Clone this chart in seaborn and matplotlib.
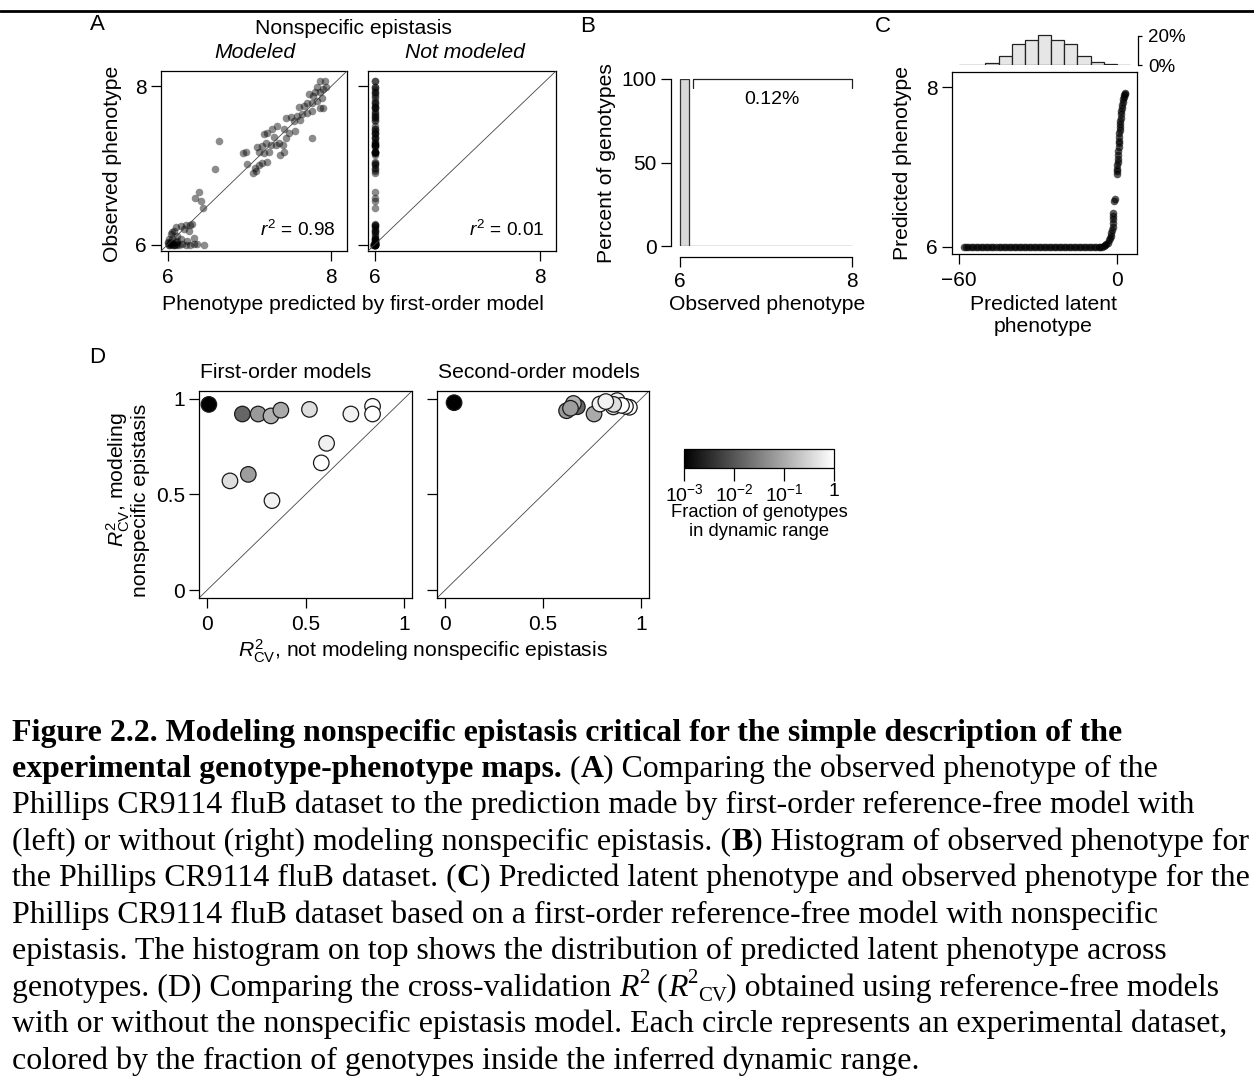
import matplotlib
matplotlib.use("Agg")
import numpy as np
import seaborn as sns
import matplotlib.pyplot as plt
from matplotlib.colors import LogNorm
from matplotlib.lines import Line2D
from matplotlib.font_manager import FontProperties
from matplotlib.cm import ScalarMappable

# ---------------- data ----------------
# Panel A: observed phenotype vs first-order predictions
observed = [
    8.063, 8.063, 7.99, 7.966, 7.987, 7.925, 7.925, 7.874, 7.895, 7.79,
    7.79, 7.81, 7.853, 7.727, 7.727, 7.748, 7.74, 7.644, 7.656, 7.686,
    7.623, 7.614, 7.60, 7.56, 7.568, 7.43, 7.405, 7.463, 7.35, 7.497,
    7.463, 7.413, 7.392, 7.363, 7.258, 7.258, 7.287, 7.245, 7.233, 7.17,
    7.153, 7.174, 7.287, 7.258, 7.17, 7.128, 7.044, 7.036, 7.002, 6.973,
    6.901, 6.927, 7.015, 7.153, 7.17, 7.342, 7.312, 6.948, 6.658, 6.583,
    6.545, 6.461,
    6.239, 6.247, 6.247, 6.197, 6.176, 6.134, 6.113, 6.071, 6.071, 6.05,
    6.008, 5.996, 5.996, 5.996, 5.996, 5.996, 5.996, 6.008, 6.029, 6.038,
    6.05, 6.071, 6.155, 6.029, 6.008, 6.008, 6.08, 6.176, 6.26, 6.218,
    6.0, 6.0, 6.0, 6.02, 6.01, 6.02, 5.99, 6.01,
]
pred_modeled = [
    7.858, 7.927, 7.825, 7.894, 7.935, 7.805, 7.866, 7.776, 7.732, 7.703,
    7.768, 7.825, 7.886, 7.894, 7.858, 7.663, 7.60, 7.642, 7.703, 7.764,
    7.581, 7.512, 7.451, 7.541, 7.622, 7.557, 7.484, 7.419, 7.451, 7.337,
    7.276, 7.215, 7.175, 7.297, 7.325, 7.26, 7.207, 7.154, 7.093, 7.114,
    7.175, 7.236, 7.358, 7.41, 7.427, 7.37, 7.215, 7.154, 7.114, 7.073,
    7.037, 7.085, 6.972, 6.919, 6.959, 7.764, 6.626, 6.585, 6.382, 6.329,
    6.41, 6.435,
    6.159, 6.22, 6.28, 6.2, 6.077, 6.037, 6.118, 6.057, 6.159, 6.24,
    6.321, 6.443, 6.28, 6.22, 6.016, 6.077, 6.138, 6.179, 6.098, 6.037,
    6.118, 6.016, 6.057, 6.0, 6.03, 6.36, 6.32, 6.26, 6.30, 6.098,
    6.02, 6.05, 6.1, 6.01, 6.04, 6.06, 6.08, 6.12,
]
pred_not_modeled = [
    6.01, 6.01, 6.01, 6.01, 6.01, 6.01, 6.01, 6.01, 6.01, 6.01,
    6.01, 6.01, 6.01, 6.01, 6.01, 6.01, 6.01, 6.01, 6.01, 6.01,
    6.01, 6.01, 6.01, 6.01, 6.01, 6.01, 6.01, 6.01, 6.01, 6.01,
    6.01, 6.01, 6.01, 6.01, 6.01, 6.01, 6.01, 6.01, 6.01, 6.01,
    6.01, 6.01, 6.01, 6.01, 6.01, 6.01, 6.01, 6.01, 6.01, 6.01,
    6.01, 6.01, 6.01, 6.01, 6.01, 6.01, 6.01, 6.01, 6.01, 6.01,
    6.01, 6.01,
    6.01, 6.01, 6.01, 6.01, 6.01, 6.01, 6.01, 6.01, 6.01, 6.01,
    6.01, 6.0, 6.0, 6.01, 5.99, 6.0, 6.01, 6.01, 6.01, 6.0,
    6.01, 6.01, 6.01, 6.0, 6.0, 6.01, 6.01, 6.01, 6.01, 6.01,
    5.99, 6.0, 6.01, 6.0, 6.0, 6.01, 5.98, 6.0,
]
r2_values = [0.98, 0.01]

# Panel B: histogram of observed phenotype (percent of genotypes)
b_edges = [6.0, 6.1, 6.2, 6.3, 6.4, 6.5, 6.6, 6.7, 6.8, 6.9, 7.0,
           7.1, 7.2, 7.3, 7.4, 7.5, 7.6, 7.7, 7.8, 7.9, 8.0]
b_percent = [99.88, 0.02, 0.01, 0.01, 0.0, 0.01, 0.0, 0.01, 0.01, 0.0,
             0.01, 0.01, 0.0, 0.01, 0.0, 0.01, 0.0, 0.0, 0.01, 0.0]

# Panel C: latent phenotype vs predicted phenotype
c_latent = [
    -58.2, -57.3, -56.4, -55.4, -54.5, -53.5, -52.6, -51.6, -50.7, -49.7,
    -48.8, -47.8, -46.9, -45.9, -45.0, -44.0, -43.1, -42.1, -41.2, -40.2,
    -39.3, -38.3, -37.4, -36.4, -35.5, -34.5, -33.6, -32.6, -31.7, -30.7,
    -29.8, -28.8, -27.9, -26.9, -26.0, -25.0, -24.1, -23.1, -22.2, -21.2,
    -20.3, -19.3, -18.4, -17.4, -16.5, -15.5, -14.6, -13.6, -12.7, -11.7,
    -10.8, -9.8, -8.9, -7.9, -7.0, -6.4,
    -5.8, -5.0, -4.5, -4.0, -3.5, -3.0, -2.7, -2.4, -2.1, -1.9,
    -1.7, -1.55, -1.45, -1.4, -1.35, -1.1, -0.8, -0.15, 0.0, 0.1,
    0.15, 0.2, 0.3, 0.4, 0.5, 0.6, 0.7, 0.75, 0.85, 0.9,
    1.0, 1.1, 1.2, 1.3, 1.4, 1.5, 1.65, 1.8, 1.95, 2.1,
    2.3, 2.5, 2.75, 3.0, 3.2,
]
c_pred = [
    6.0, 6.0, 6.0, 6.0, 6.0, 6.0, 6.0, 6.0, 6.0, 6.0,
    6.0, 6.0, 6.0, 6.0, 6.0, 6.0, 6.0, 6.0, 6.0, 6.0,
    6.0, 6.0, 6.0, 6.0, 6.0, 6.0, 6.0, 6.0, 6.0, 6.0,
    6.0, 6.0, 6.0, 6.0, 6.0, 6.0, 6.0, 6.0, 6.0, 6.0,
    6.0, 6.0, 6.0, 6.0, 6.0, 6.0, 6.0, 6.0, 6.0, 6.0,
    6.0, 6.0, 6.0, 6.0, 6.0, 6.0,
    6.0, 6.01, 6.02, 6.03, 6.05, 6.08, 6.11, 6.14, 6.17, 6.21,
    6.25, 6.30, 6.35, 6.38, 6.42, 6.58, 6.6, 6.91, 6.95, 6.98,
    7.03, 7.06, 7.1, 7.15, 7.2, 7.25, 7.3, 7.33, 7.38, 7.42,
    7.46, 7.5, 7.54, 7.58, 7.62, 7.66, 7.7, 7.74, 7.78, 7.81,
    7.85, 7.88, 7.9, 7.92, 7.93,
]
c_hist_edges = [-60, -55, -50, -45, -40, -35, -30, -25, -20, -15, -10, -5, 0, 5]
c_hist_percent = [0.0, 0.3, 1.2, 6.4, 14.4, 16.8, 20.3, 16.8, 14.4, 6.4, 1.9, 0.7, 0.0]

# Panel D: cross-validated R^2 with / without nonspecific epistasis
first_without = [0.01, 0.18, 0.26, 0.325, 0.375, 0.52, 0.73, 0.84, 0.84, 0.607, 0.58, 0.117, 0.21, 0.33]
first_with = [0.97, 0.92, 0.92, 0.91, 0.94, 0.944, 0.92, 0.96, 0.92, 0.767, 0.665, 0.571, 0.605, 0.468]
second_without = [0.047, 0.675, 0.62, 0.655, 0.76, 0.858, 0.79, 0.94, 0.92, 0.878, 0.90, 0.86, 0.64, 0.82]
second_with = [0.979, 0.958, 0.937, 0.975, 0.92, 0.957, 0.972, 0.955, 0.96, 0.99, 0.965, 0.97, 0.95, 0.985]
frac_dynamic = [0.001, 0.016, 0.063, 0.12, 0.1, 0.4, 0.7, 1.0, 1.0, 0.65, 1.0, 0.4, 0.07, 0.7]
cbar_ticks = [1e-3, 1e-2, 1e-1, 1]
cbar_labels = [r"$10^{-3}$", r"$10^{-2}$", r"$10^{-1}$", "1"]

# ---------------- style ----------------
sns.set_theme(style="ticks")
FS = 15.2
TICK_FS = 15
plt.rcParams.update({
    "font.family": ["Liberation Sans", "DejaVu Sans"],
    "mathtext.fontset": "custom",
    "mathtext.rm": "Liberation Sans",
    "mathtext.it": "Liberation Sans:italic",
    "mathtext.bf": "Liberation Sans:bold",
    "axes.edgecolor": "black",
    "axes.linewidth": 0.9,
    "xtick.color": "black",
    "ytick.color": "black",
    "xtick.major.width": 0.9,
    "ytick.major.width": 0.9,
    "xtick.major.size": 7,
    "ytick.major.size": 7,
    "xtick.direction": "out",
    "ytick.direction": "out",
    "xtick.labelsize": TICK_FS,
    "ytick.labelsize": TICK_FS,
    "text.color": "black",
})

W, H = 1254, 1078
fig = plt.figure(figsize=(W / 100, H / 100), dpi=100)


def add_ax(x0, y0, x1, y1):
    return fig.add_axes([x0 / W, 1 - y1 / H, (x1 - x0) / W, (y1 - y0) / H])


def ftext(x, y, s, **kw):
    kw.setdefault("ha", "center")
    kw.setdefault("va", "center")
    kw.setdefault("fontsize", FS)
    return fig.text(x / W, 1 - y / H, s, **kw)


def box_axes(ax):
    for sp in ax.spines.values():
        sp.set_visible(True)
        sp.set_linewidth(0.9)
        sp.set_color("black")
    ax.set_xlabel("")
    ax.set_ylabel("")


def tick_style(ax):
    ax.tick_params(axis="x", pad=5.5, length=7)
    ax.tick_params(axis="y", pad=3, length=7)


# rule across the top
fig.add_artist(Line2D([0, 1], [1 - 11 / H, 1 - 11 / H], transform=fig.transFigure,
                      color="black", lw=2))

# ---------------- panel A ----------------
lim_a = (5.92, 8.19)
axA1 = add_ax(161, 71, 347, 251)
axA2 = add_ax(368, 71, 556, 251)
for ax, xs, r2, show_y in [(axA1, pred_modeled, r2_values[0], True),
                           (axA2, pred_not_modeled, r2_values[1], False)]:
    sns.scatterplot(x=xs, y=observed, ax=ax, color="black", alpha=0.45,
                    s=30, linewidth=0, legend=False)
    ax.axline((6, 6), slope=1, color="#444444", lw=0.6, zorder=3)
    ax.set_xlim(lim_a)
    ax.set_ylim(lim_a)
    ax.set_xticks([6, 8])
    ax.set_yticks([6, 8])
    ax.set_xticklabels(["6", "8"])
    ax.set_yticklabels(["6", "8"] if show_y else [])
    tick_style(ax)
    box_axes(ax)
    ax.text(0.94, 0.117, r"$r^2$ = %.2f" % r2, transform=ax.transAxes,
            ha="right", va="center", fontsize=13.8)

ftext(97, 25, "A", fontsize=16)
ftext(353, 28, "Nonspecific epistasis")
ftext(255, 53, "Modeled", style="italic")
ftext(465, 53, "Not modeled", style="italic")
ftext(113, 164, "Observed phenotype", rotation=90)
ftext(353, 304, "Phenotype predicted by first-order model")

# ---------------- panel B ----------------
axB = add_ax(675, 79, 858, 246)
b_centers = [(a + b) / 2 for a, b in zip(b_edges[:-1], b_edges[1:])]
sns.histplot(x=b_centers, weights=b_percent, bins=b_edges, ax=axB,
             color="#d9d9d9", edgecolor="#333333", linewidth=0.9, alpha=1)
axB.set_xlim(5.942, 8.07)
axB.set_ylim(0, 100)
axB.spines["top"].set_visible(False)
axB.spines["right"].set_visible(False)
axB.spines["left"].set_position(("outward", 3))
axB.spines["left"].set_bounds(0, 100)
axB.spines["bottom"].set_position(("outward", 8))
axB.spines["bottom"].set_bounds(6, 8)
axB.set_xticks([6, 8])
axB.set_xticklabels(["6", "8"])
axB.set_yticks([0, 50, 100])
axB.set_yticklabels(["0", "50", "100"])
axB.tick_params(axis="x", pad=4, length=7)
axB.tick_params(axis="y", pad=3, length=7)
axB.set_xlabel("")
axB.set_ylabel("")
# bracket over the bins above the first one
bx0 = b_edges[1] + 0.05
bx1 = b_edges[-1]
axB.plot([bx0, bx0, bx1, bx1], [94.5, 100, 100, 94.5], color="#222222", lw=0.9,
         clip_on=False)
axB.text((bx0 + bx1) / 2, 87.5, "%.2f%%" % sum(b_percent[1:]), ha="center",
         va="center", fontsize=14)

ftext(588, 26, "B", fontsize=16)
ftext(607, 163, "Percent of genotypes", rotation=90)
ftext(767, 304, "Observed phenotype")

# ---------------- panel C ----------------
xlim_c = (-62.66, 7.6)
axC = add_ax(952, 72, 1137, 254)
sns.scatterplot(x=c_latent, y=c_pred, ax=axC, color="black", alpha=0.65,
                s=30, linewidth=0, legend=False)
axC.set_xlim(xlim_c)
axC.set_ylim(5.91, 8.19)
axC.set_xticks([-60, 0])
axC.set_xticklabels(["\u221260", "0"])
axC.set_yticks([6, 8])
axC.set_yticklabels(["6", "8"])
tick_style(axC)
box_axes(axC)

axCh = add_ax(952, 33, 1137, 65)
c_centers = [(a + b) / 2 for a, b in zip(c_hist_edges[:-1], c_hist_edges[1:])]
sns.histplot(x=c_centers, weights=c_hist_percent, bins=c_hist_edges, ax=axCh,
             color="#e6e6e6", edgecolor="#222222", linewidth=0.9, alpha=1)
axCh.set_xlim(xlim_c)
axCh.set_ylim(0, 32 / 29.3 * 20)
for side in ["top", "left", "bottom"]:
    axCh.spines[side].set_visible(False)
axCh.spines["right"].set_position(("outward", 1))
axCh.spines["right"].set_bounds(0, 20)
axCh.spines["right"].set_linewidth(0.9)
axCh.yaxis.tick_right()
axCh.set_yticks([0, 20])
axCh.set_yticklabels(["0%", "20%"])
axCh.tick_params(axis="y", length=3, pad=4, labelsize=13.5)
axCh.set_xticks([])
axCh.set_xlabel("")
axCh.set_ylabel("")

ftext(883, 26, "C", fontsize=16)
ftext(903, 163, "Predicted phenotype", rotation=90)
ftext(1043, 305, "Predicted latent")
ftext(1043, 327, "phenotype")

# ---------------- panel D ----------------
norm = LogNorm(vmin=1e-3, vmax=1)
axD1 = add_ax(199, 391, 412, 598)
axD2 = add_ax(437, 391, 649, 598)
for ax, xs, ys, show_y in [(axD1, first_without, first_with, True),
                           (axD2, second_without, second_with, False)]:
    ax.axline((0, 0), slope=1, color="#444444", lw=0.6, zorder=1)
    sns.scatterplot(x=xs, y=ys, hue=frac_dynamic, hue_norm=norm, palette="gray",
                    ax=ax, s=125, edgecolor="#1a1a1a", linewidth=0.9,
                    legend=False, zorder=3)
    ax.set_xlim(-0.04, 1.04)
    ax.set_ylim(-0.04, 1.04)
    ax.set_xticks([0, 0.5, 1])
    ax.set_xticklabels(["0", "0.5", "1"])
    ax.set_yticks([0, 0.5, 1])
    ax.set_yticklabels(["0", "0.5", "1"] if show_y else [])
    tick_style(ax)
    box_axes(ax)

ftext(97, 357, "D", fontsize=16)
ftext(286, 372, "First-order models")
ftext(539, 372, "Second-order models")
ftext(118, 480, r"$R^2_{\mathrm{CV}}$, modeling", rotation=90)
ftext(140, 500, "nonspecific epistasis", rotation=90)
ftext(423, 651, r"$R^2_{\mathrm{CV}}$, not modeling nonspecific epistasis")

cax = add_ax(684, 449, 834, 468)
cb = fig.colorbar(ScalarMappable(norm=norm, cmap="gray"), cax=cax,
                  orientation="horizontal")
cb.set_ticks(cbar_ticks)
cb.set_ticklabels(cbar_labels)
cax.minorticks_off()
cax.tick_params(axis="x", length=9, width=0.9, pad=2, labelsize=14)
cb.outline.set_linewidth(0.9)
cb.outline.set_edgecolor("black")
ftext(759, 512, "Fraction of genotypes", fontsize=13.2)
ftext(759, 531, "in dynamic range", fontsize=13.2)

# ---------------- caption ----------------
caption = [
    [("Figure 2.2. Modeling nonspecific epistasis critical for the simple description of the", "b")],
    [("experimental genotype-phenotype maps.", "b"), (" (", "r"), ("A", "b"),
     (") Comparing the observed phenotype of the", "r")],
    [("Phillips CR9114 fluB dataset to the prediction made by first-order reference-free model with", "r")],
    [("(left) or without (right) modeling nonspecific epistasis. (", "r"), ("B", "b"),
     (") Histogram of observed phenotype for", "r")],
    [("the Phillips CR9114 fluB dataset. (", "r"), ("C", "b"),
     (") Predicted latent phenotype and observed phenotype for the", "r")],
    [("Phillips CR9114 fluB dataset based on a first-order reference-free model with nonspecific", "r")],
    [("epistasis. The histogram on top shows the distribution of predicted latent phenotype across", "r")],
    [("genotypes. (D) Comparing the cross-validation ", "r"), ("R", "i"), ("2", "sup"),
     (" (", "r"), ("R", "i"), ("2", "sup"), ("CV", "sub"),
     (") obtained using reference-free models", "r")],
    [("with or without the nonspecific epistasis model. Each circle represents an experimental dataset,", "r")],
    [("colored by the fraction of genotypes inside the inferred dynamic range.", "r")],
]

renderer = fig.canvas.get_renderer()
SERIF = "Liberation Serif"


def seg_prop(kind, size):
    if kind == "b":
        return FontProperties(family=SERIF, weight="bold", size=size)
    if kind == "i":
        return FontProperties(family=SERIF, style="italic", size=size)
    if kind in ("sup", "sub"):
        return FontProperties(family=SERIF, size=size * 0.65)
    return FontProperties(family=SERIF, size=size)


def advance(s, prop):
    w1, _, _ = renderer.get_text_width_height_descent(s + "|", prop, ismath=False)
    w2, _, _ = renderer.get_text_width_height_descent("|", prop, ismath=False)
    return w1 - w2


def line_width(line, size):
    return sum(advance(t, seg_prop(k, size)) for t, k in line)


cap_x0 = 12
# size the caption from its third line, but keep every line inside the page
base = 22
cap_size = base * 1188 / line_width(caption[2], base)
widest = max(line_width(l, cap_size) for l in caption)
if cap_x0 + widest > W - 4:
    cap_size *= (W - 4 - cap_x0) / widest
cap_y0 = 740.5
cap_step = 36.45

for i, line in enumerate(caption):
    x = cap_x0
    yb = cap_y0 + i * cap_step
    for txt, kind in line:
        prop = seg_prop(kind, cap_size)
        dy = 0
        if kind == "sup":
            dy = -0.40 * cap_size * 100 / 72
        elif kind == "sub":
            dy = 0.16 * cap_size * 100 / 72
        fig.text(x / W, 1 - (yb + dy) / H, txt, fontproperties=prop,
                 ha="left", va="baseline")
        x += advance(txt, prop)

fig.savefig("out.png", dpi=100)
